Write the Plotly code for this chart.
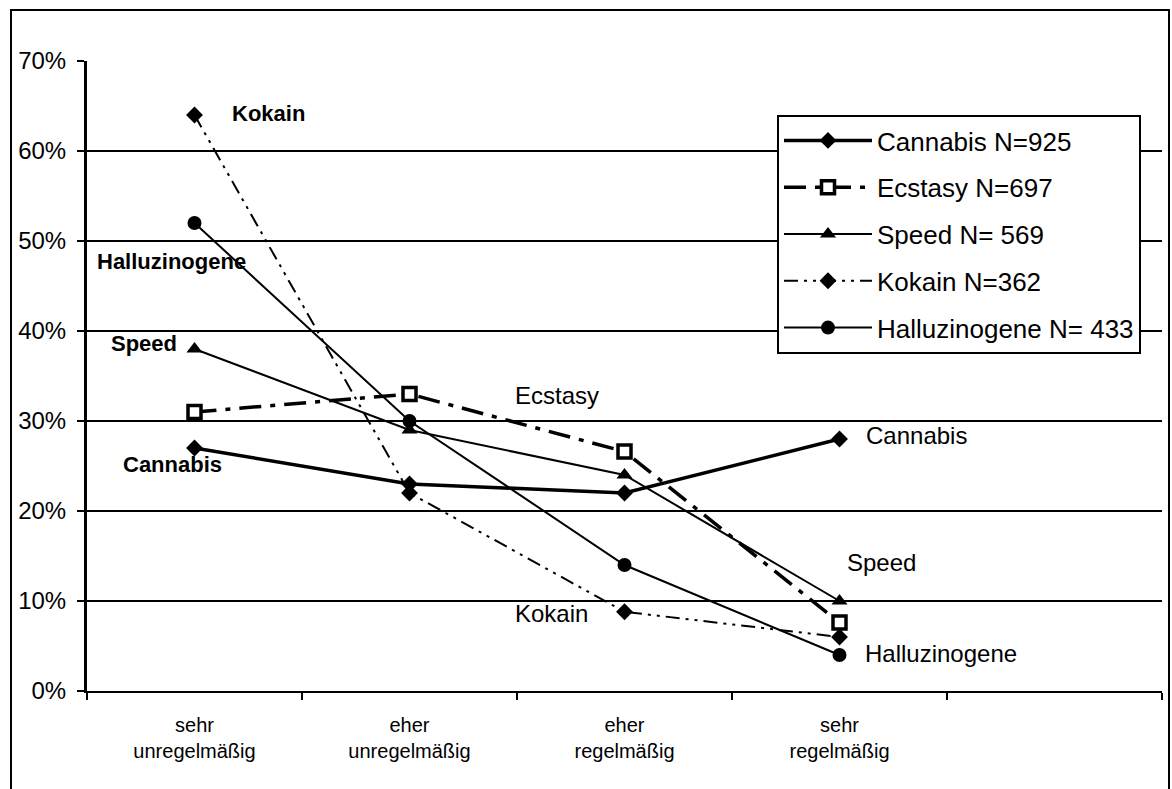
import plotly.graph_objects as go

# ---- data ----
categories = ["sehr<br>unregelmäßig", "eher<br>unregelmäßig", "eher<br>regelmäßig", "sehr<br>regelmäßig", " "]
cannabis = [27, 23, 22, 28]
ecstasy = [31, 33, 26.6, 7.6]
speed = [38, 29, 24, 10]
kokain = [64, 22, 8.8, 6]
halluzinogene = [52, 30, 14, 4]
legend_names = ["Cannabis N=925", "Ecstasy N=697", "Speed N= 569", "Kokain N=362", "Halluzinogene N= 433"]
y_ticks = [0, 10, 20, 30, 40, 50, 60, 70]
y_tick_labels = ["0%", "10%", "20%", "30%", "40%", "50%", "60%", "70%"]

# ---- layout geometry (pixels) ----
W, H = 1172, 789
L, R, T, B = 87, 10, 61, 98
PW, PH = W - L - R, H - T - B


def px(x):
    return (x - L) / PW


def py(y):
    return (H - B - y) / PH


FONT = "Liberation Sans, Arial, Helvetica, sans-serif"
x4 = categories[:4]

fig = go.Figure()
fig.add_trace(go.Scatter(
    x=x4, y=cannabis, name=legend_names[0], legendgroup="a", mode="lines+markers",
    line=dict(color="black", width=3.5),
    marker=dict(symbol="diamond", size=13, color="black")))
fig.add_trace(go.Scatter(
    x=x4, y=ecstasy, name=legend_names[1], legendgroup="b", mode="lines+markers",
    line=dict(color="black", width=3.5, dash="22px,9px,5px,9px"),
    marker=dict(symbol="square", size=13, color="white", line=dict(color="black", width=3.5))))
fig.add_trace(go.Scatter(
    x=x4, y=speed, name=legend_names[2], legendgroup="c", mode="lines+markers",
    line=dict(color="black", width=2),
    marker=dict(symbol="triangle-up", size=14, color="black")))
fig.add_trace(go.Scatter(
    x=x4, y=kokain, name=legend_names[3], legendgroup="d", mode="lines+markers",
    line=dict(color="black", width=2, dash="14px,6px,3px,6px,3px,6px"),
    marker=dict(symbol="diamond", size=13, color="black")))
fig.add_trace(go.Scatter(
    x=x4, y=halluzinogene, name=legend_names[4], legendgroup="e", mode="lines+markers",
    line=dict(color="black", width=2),
    marker=dict(symbol="circle", size=14, color="black")))

# in-chart labels
labels = [
    ("Kokain", 232, 113, True),
    ("Halluzinogene", 97, 261, True),
    ("Speed", 111, 343, True),
    ("Cannabis", 123, 465, True),
    ("Ecstasy", 515, 395, False),
    ("Cannabis", 866, 435, False),
    ("Speed", 847, 562, False),
    ("Kokain", 515, 613, False),
    ("Halluzinogene", 865, 653, False),
]
for text, lx, ly, bold in labels:
    fig.add_annotation(
        text=f"<b>{text}</b>" if bold else text,
        xref="paper", yref="paper", x=px(lx - 2), y=py(ly),
        xanchor="left", yanchor="middle", showarrow=False,
        font=dict(family=FONT, size=22 if bold else 24, color="black"))

# outer frame
fig.add_shape(type="rect", xref="paper", yref="paper",
              x0=px(11), x1=px(1169), y0=py(800), y1=py(10),
              line=dict(color="black", width=2), layer="below")

fig.update_layout(
    width=W, height=H,
    margin=dict(l=L, r=R, t=T, b=B),
    paper_bgcolor="white", plot_bgcolor="white",
    font=dict(family=FONT, color="black"),
    showlegend=True,
    legend=dict(
        x=px(777), y=py(115), xanchor="left", yanchor="top",
        bgcolor="white", bordercolor="black", borderwidth=2,
        font=dict(family=FONT, size=26, color="black"),
        tracegroupgap=10, itemwidth=88,
    ),
    xaxis=dict(
        type="category", categoryorder="array", categoryarray=categories,
        range=[-0.5, 4.5], tickson="boundaries",
        ticks="outside", ticklen=7, tickwidth=2, tickcolor="black",
        showline=True, linecolor="black", linewidth=2,
        showgrid=False, zeroline=False,
        tickfont=dict(family=FONT, size=20, color="black"),
        ticklabelstandoff=15,
    ),
    yaxis=dict(
        range=[0, 70], tickvals=y_ticks, ticktext=y_tick_labels,
        ticks="outside", ticklen=7, tickwidth=2, tickcolor="black",
        showline=True, linecolor="black", linewidth=3,
        showgrid=True, gridcolor="black", gridwidth=1.5,
        zeroline=False,
        tickfont=dict(family=FONT, size=24, color="black"),
        ticklabelstandoff=6,
    ),
)

fig.write_html("out.html", config={"displayModeBar": False},
               post_script="document.body.style.margin='0px';")
